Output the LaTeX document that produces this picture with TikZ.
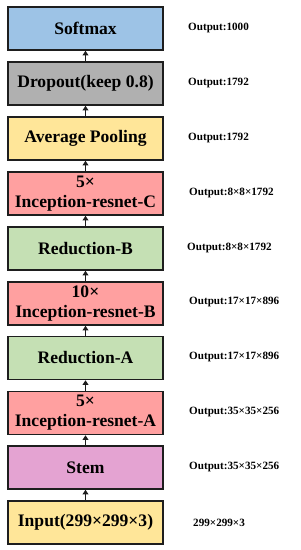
\documentclass[tikz,border=0pt]{standalone}
\usepackage{fontspec}
\setmainfont{Liberation Serif}
\usepackage{xcolor}
\definecolor{softblue}{RGB}{157,195,230}
\definecolor{dropgray}{RGB}{176,176,176}
\definecolor{poolyellow}{RGB}{255,230,153}
\definecolor{incpink}{RGB}{255,160,160}
\definecolor{redgreen}{RGB}{197,224,180}
\definecolor{stemviolet}{RGB}{228,163,210}
\definecolor{edge}{RGB}{30,30,30}
\usepackage{tikz}
\usetikzlibrary{arrows.meta, positioning}

\begin{document}
\begin{tikzpicture}[
        x=0.03cm, y=0.03cm,
        layer/.style={rectangle, draw=edge, line width=1.3pt, fill=#1, minimum width=4.65cm, minimum height=1.29cm, align=center, inner sep=1pt, font=\fontsize{15}{17}\selectfont\bfseries},
        outlabel/.style={anchor=west, inner sep=0pt, font=\fontsize{9.5}{11}\selectfont\bfseries},
        flow/.style={-{Triangle[length=4pt, width=5pt]}, line width=1.3pt, edge}
    ]
        \useasboundingbox (0,0) rectangle (300,550);

        % Layers, bottom to top
        \node[layer=poolyellow] (input) at (85.5, 27.5) {Input(299×299×3)};
        \node[layer=stemviolet] (stem) at (85.5, 82.5) {Stem};
        \node[layer=incpink] (incA) at (85.5, 137) {5×\\Inception-resnet-A};
        \node[layer=redgreen] (redA) at (85.5, 192) {Reduction-A};
        \node[layer=incpink] (incB) at (85.5, 246.5) {10×\\Inception-resnet-B};
        \node[layer=redgreen] (redB) at (85.5, 301.5) {Reduction-B};
        \node[layer=incpink] (incC) at (85.5, 356.5) {5×\\Inception-resnet-C};
        \node[layer=poolyellow] (pool) at (85.5, 411.5) {Average Pooling};
        \node[layer=dropgray] (drop) at (85.5, 466.5) {Dropout(keep 0.8)};
        \node[layer=softblue] (soft) at (85.5, 521.5) {Softmax};

        % Output sizes
        \node[outlabel] (outInput) at (193, 27.5) {299×299×3};
        \node[outlabel] (outStem) at (189, 82.5) {Output:35×35×256};
        \node[outlabel] (outIncA) at (189, 137.5) {Output:35×35×256};
        \node[outlabel] (outRedA) at (189, 193) {Output:17×17×896};
        \node[outlabel] (outIncB) at (189, 248.5) {Output:17×17×896};
        \node[outlabel] (outRedB) at (187, 302) {Output:8×8×1792};
        \node[outlabel] (outIncC) at (189, 357) {Output:8×8×1792};
        \node[outlabel] (outPool) at (188, 411.5) {Output:1792};
        \node[outlabel] (outDrop) at (188, 467) {Output:1792};
        \node[outlabel] (outSoft) at (188, 522) {Output:1000};

        % Connections
        \draw[flow] (input) -- (stem);
        \draw[flow] (stem) -- (incA);
        \draw[flow] (incA) -- (redA);
        \draw[flow] (redA) -- (incB);
        \draw[flow] (incB) -- (redB);
        \draw[flow] (redB) -- (incC);
        \draw[flow] (incC) -- (pool);
        \draw[flow] (pool) -- (drop);
        \draw[flow] (drop) -- (soft);
    \end{tikzpicture}
\end{document}
